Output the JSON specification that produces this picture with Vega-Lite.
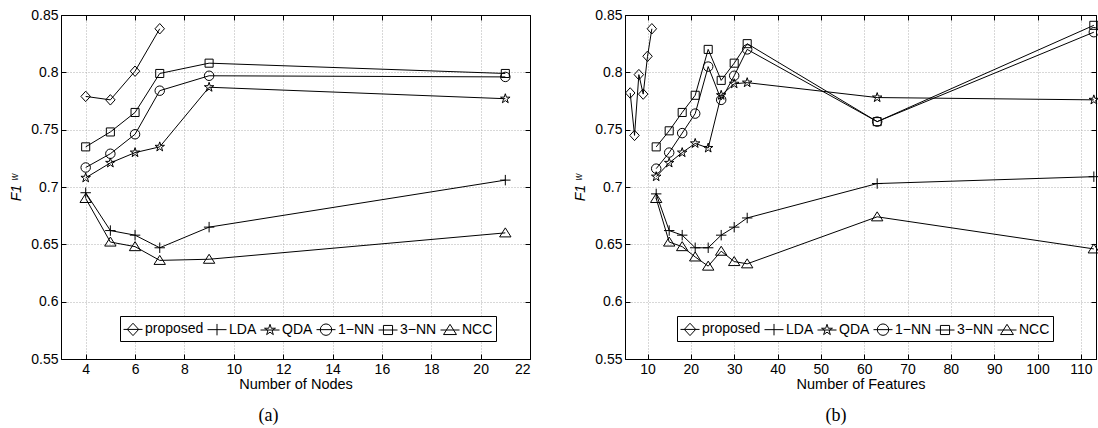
{
  "$schema": "https://vega.github.io/schema/vega-lite/v6.json",
  "padding": {"left": 9, "top": 7, "right": 0, "bottom": 0},
  "datasets": {
    "a": [
      {"m": "proposed", "x": 4, "y": 0.779}, {"m": "proposed", "x": 5, "y": 0.776}, {"m": "proposed", "x": 6, "y": 0.801}, {"m": "proposed", "x": 7, "y": 0.838},
      {"m": "LDA", "x": 4, "y": 0.695}, {"m": "LDA", "x": 5, "y": 0.662}, {"m": "LDA", "x": 6, "y": 0.658}, {"m": "LDA", "x": 7, "y": 0.647}, {"m": "LDA", "x": 9, "y": 0.665}, {"m": "LDA", "x": 21, "y": 0.706},
      {"m": "QDA", "x": 4, "y": 0.708}, {"m": "QDA", "x": 5, "y": 0.721}, {"m": "QDA", "x": 6, "y": 0.730}, {"m": "QDA", "x": 7, "y": 0.735}, {"m": "QDA", "x": 9, "y": 0.787}, {"m": "QDA", "x": 21, "y": 0.777},
      {"m": "1−NN", "x": 4, "y": 0.717}, {"m": "1−NN", "x": 5, "y": 0.729}, {"m": "1−NN", "x": 6, "y": 0.746}, {"m": "1−NN", "x": 7, "y": 0.784}, {"m": "1−NN", "x": 9, "y": 0.797}, {"m": "1−NN", "x": 21, "y": 0.796},
      {"m": "3−NN", "x": 4, "y": 0.735}, {"m": "3−NN", "x": 5, "y": 0.748}, {"m": "3−NN", "x": 6, "y": 0.765}, {"m": "3−NN", "x": 7, "y": 0.799}, {"m": "3−NN", "x": 9, "y": 0.808}, {"m": "3−NN", "x": 21, "y": 0.799},
      {"m": "NCC", "x": 4, "y": 0.690}, {"m": "NCC", "x": 5, "y": 0.652}, {"m": "NCC", "x": 6, "y": 0.648}, {"m": "NCC", "x": 7, "y": 0.636}, {"m": "NCC", "x": 9, "y": 0.637}, {"m": "NCC", "x": 21, "y": 0.660}
    ],
    "b": [
      {"m": "proposed", "x": 6, "y": 0.782}, {"m": "proposed", "x": 7, "y": 0.745}, {"m": "proposed", "x": 8, "y": 0.798}, {"m": "proposed", "x": 9, "y": 0.781}, {"m": "proposed", "x": 10, "y": 0.814}, {"m": "proposed", "x": 11, "y": 0.838},
      {"m": "LDA", "x": 12, "y": 0.694}, {"m": "LDA", "x": 15, "y": 0.662}, {"m": "LDA", "x": 18, "y": 0.658}, {"m": "LDA", "x": 21, "y": 0.647}, {"m": "LDA", "x": 24, "y": 0.647}, {"m": "LDA", "x": 27, "y": 0.658}, {"m": "LDA", "x": 30, "y": 0.665}, {"m": "LDA", "x": 33, "y": 0.673}, {"m": "LDA", "x": 63, "y": 0.703}, {"m": "LDA", "x": 113, "y": 0.709},
      {"m": "QDA", "x": 12, "y": 0.709}, {"m": "QDA", "x": 15, "y": 0.721}, {"m": "QDA", "x": 18, "y": 0.730}, {"m": "QDA", "x": 21, "y": 0.738}, {"m": "QDA", "x": 24, "y": 0.734}, {"m": "QDA", "x": 27, "y": 0.780}, {"m": "QDA", "x": 30, "y": 0.790}, {"m": "QDA", "x": 33, "y": 0.791}, {"m": "QDA", "x": 63, "y": 0.778}, {"m": "QDA", "x": 113, "y": 0.776},
      {"m": "1−NN", "x": 12, "y": 0.716}, {"m": "1−NN", "x": 15, "y": 0.730}, {"m": "1−NN", "x": 18, "y": 0.747}, {"m": "1−NN", "x": 21, "y": 0.764}, {"m": "1−NN", "x": 24, "y": 0.805}, {"m": "1−NN", "x": 27, "y": 0.776}, {"m": "1−NN", "x": 30, "y": 0.797}, {"m": "1−NN", "x": 33, "y": 0.820}, {"m": "1−NN", "x": 63, "y": 0.757}, {"m": "1−NN", "x": 113, "y": 0.835},
      {"m": "3−NN", "x": 12, "y": 0.735}, {"m": "3−NN", "x": 15, "y": 0.749}, {"m": "3−NN", "x": 18, "y": 0.765}, {"m": "3−NN", "x": 21, "y": 0.780}, {"m": "3−NN", "x": 24, "y": 0.820}, {"m": "3−NN", "x": 27, "y": 0.793}, {"m": "3−NN", "x": 30, "y": 0.808}, {"m": "3−NN", "x": 33, "y": 0.825}, {"m": "3−NN", "x": 63, "y": 0.757}, {"m": "3−NN", "x": 113, "y": 0.841},
      {"m": "NCC", "x": 12, "y": 0.690}, {"m": "NCC", "x": 15, "y": 0.652}, {"m": "NCC", "x": 18, "y": 0.648}, {"m": "NCC", "x": 21, "y": 0.639}, {"m": "NCC", "x": 24, "y": 0.631}, {"m": "NCC", "x": 27, "y": 0.644}, {"m": "NCC", "x": 30, "y": 0.635}, {"m": "NCC", "x": 33, "y": 0.633}, {"m": "NCC", "x": 63, "y": 0.674}, {"m": "NCC", "x": 113, "y": 0.646}
    ]
  },
  "spacing": 42,
  "resolve": {"scale": {"shape": "independent"}, "legend": {"shape": "independent"}},
  "hconcat": [
    {
      "width": 469,
      "height": 344,
      "data": {"name": "a"},
      "title": {"text": "(a)", "orient": "bottom", "font": "Liberation Serif", "fontSize": 18, "fontWeight": "normal", "color": "black", "dx": -27, "offset": 16.5},
      "resolve": {"axis": {"x": "independent", "y": "independent"}, "scale": {"shape": "independent"}, "legend": {"shape": "independent"}},
      "layer": [
        {
          "mark": {"type": "line", "color": "black", "strokeWidth": 1},
          "encoding": {
            "x": {"field": "x", "type": "quantitative", "scale": {"domain": [3, 22], "nice": false, "zero": false},
                  "axis": {"orient": "bottom", "values": [4, 6, 8, 10, 12, 14, 16, 18, 20, 22], "title": "Number of Nodes", "grid": true}},
            "y": {"field": "y", "type": "quantitative", "scale": {"domain": [0.55, 0.85], "nice": false, "zero": false},
                  "axis": {"orient": "left", "values": [0.55, 0.6, 0.65, 0.7, 0.75, 0.8, 0.85], "format": ".2~f", "title": "F1 ʷ", "grid": true}},
            "detail": {"field": "m"}
          }
        },
        {
          "mark": {"type": "point", "filled": false, "stroke": "black", "strokeWidth": 1, "size": 90, "opacity": 1},
          "encoding": {
            "x": {"field": "x", "type": "quantitative", "axis": {"orient": "top", "values": [4, 6, 8, 10, 12, 14, 16, 18, 20, 22], "labels": false, "title": null, "grid": false}},
            "y": {"field": "y", "type": "quantitative", "axis": {"orient": "right", "values": [0.55, 0.6, 0.65, 0.7, 0.75, 0.8, 0.85], "labels": false, "title": null, "grid": false}},
            "shape": {"field": "m", "type": "nominal", "legend": null,
              "scale": {"domain": ["proposed", "LDA", "QDA", "1−NN", "3−NN", "NCC"],
                        "range": ["M0,-1.1L1,0L0,1.1L-1,0Z", "M-1.1,0H1.1M0,-1.1V1.1", "M0,-1.05L0.236,-0.324L0.999,-0.324L0.381,0.124L0.617,0.849L0,0.401L-0.617,0.849L-0.381,0.124L-0.999,-0.324L-0.236,-0.324Z", "M1,0A1,1,0,1,1,-1,0A1,1,0,1,1,1,0Z", "M-0.85,-0.85H0.85V0.85H-0.85Z", "M0,-1.05L1.2,0.85H-1.2Z"]}}
          }
        },
        {
          "transform": [{"filter": "false"}],
          "mark": {"type": "point", "filled": false, "stroke": "black", "strokeWidth": 1, "size": 361, "opacity": 1},
          "encoding": {
            "x": {"field": "x", "type": "quantitative", "axis": null},
            "y": {"field": "y", "type": "quantitative", "axis": null},
            "shape": {"field": "m", "type": "nominal",
              "scale": {"domain": ["proposed", "LDA", "QDA", "1−NN", "3−NN", "NCC"],
                        "range": ["M-1,0H1M0,-0.65L0.6,0L0,0.65L-0.6,0Z", "M-1,0H1M0,-0.6V0.6", "M-1,0H1M0,-0.6L0.135,-0.185L0.571,-0.185L0.218,0.071L0.353,0.485L0,0.229L-0.353,0.485L-0.218,0.071L-0.571,-0.185L-0.135,-0.185Z", "M-1,0H1M0.6,0A0.6,0.6,0,1,1,-0.6,0A0.6,0.6,0,1,1,0.6,0Z", "M-1,0H1M-0.48,-0.48H0.48V0.48H-0.48Z", "M-1,0H1M0,-0.6L0.68,0.48H-0.68Z"]},
              "legend": {"orient": "none", "legendX": 59, "legendY": 301, "direction": "horizontal", "title": null, "symbolSize": 361}}
          }
        }
      ]
    },
    {
      "width": 471,
      "height": 344,
      "data": {"name": "b"},
      "title": {"text": "(b)", "orient": "bottom", "font": "Liberation Serif", "fontSize": 18, "fontWeight": "normal", "color": "black", "dx": -24.5, "offset": 16.5},
      "resolve": {"axis": {"x": "independent", "y": "independent"}, "scale": {"shape": "independent"}, "legend": {"shape": "independent"}},
      "layer": [
        {
          "mark": {"type": "line", "color": "black", "strokeWidth": 1},
          "encoding": {
            "x": {"field": "x", "type": "quantitative", "scale": {"domain": [4.8, 113.5], "nice": false, "zero": false},
                  "axis": {"orient": "bottom", "values": [10, 20, 30, 40, 50, 60, 70, 80, 90, 100, 110], "title": "Number of Features", "grid": true}},
            "y": {"field": "y", "type": "quantitative", "scale": {"domain": [0.55, 0.85], "nice": false, "zero": false},
                  "axis": {"orient": "left", "values": [0.55, 0.6, 0.65, 0.7, 0.75, 0.8, 0.85], "format": ".2~f", "title": "F1 ʷ", "grid": true}},
            "detail": {"field": "m"}
          }
        },
        {
          "mark": {"type": "point", "filled": false, "stroke": "black", "strokeWidth": 1, "size": 90, "opacity": 1},
          "encoding": {
            "x": {"field": "x", "type": "quantitative", "axis": {"orient": "top", "values": [10, 20, 30, 40, 50, 60, 70, 80, 90, 100, 110], "labels": false, "title": null, "grid": false}},
            "y": {"field": "y", "type": "quantitative", "axis": {"orient": "right", "values": [0.55, 0.6, 0.65, 0.7, 0.75, 0.8, 0.85], "labels": false, "title": null, "grid": false}},
            "shape": {"field": "m", "type": "nominal", "legend": null,
              "scale": {"domain": ["proposed", "LDA", "QDA", "1−NN", "3−NN", "NCC"],
                        "range": ["M0,-1.1L1,0L0,1.1L-1,0Z", "M-1.1,0H1.1M0,-1.1V1.1", "M0,-1.05L0.236,-0.324L0.999,-0.324L0.381,0.124L0.617,0.849L0,0.401L-0.617,0.849L-0.381,0.124L-0.999,-0.324L-0.236,-0.324Z", "M1,0A1,1,0,1,1,-1,0A1,1,0,1,1,1,0Z", "M-0.85,-0.85H0.85V0.85H-0.85Z", "M0,-1.05L1.2,0.85H-1.2Z"]}}
          }
        },
        {
          "transform": [{"filter": "false"}],
          "mark": {"type": "point", "filled": false, "stroke": "black", "strokeWidth": 1, "size": 361, "opacity": 1},
          "encoding": {
            "x": {"field": "x", "type": "quantitative", "axis": null},
            "y": {"field": "y", "type": "quantitative", "axis": null},
            "shape": {"field": "m", "type": "nominal",
              "scale": {"domain": ["proposed", "LDA", "QDA", "1−NN", "3−NN", "NCC"],
                        "range": ["M-1,0H1M0,-0.65L0.6,0L0,0.65L-0.6,0Z", "M-1,0H1M0,-0.6V0.6", "M-1,0H1M0,-0.6L0.135,-0.185L0.571,-0.185L0.218,0.071L0.353,0.485L0,0.229L-0.353,0.485L-0.218,0.071L-0.571,-0.185L-0.135,-0.185Z", "M-1,0H1M0.6,0A0.6,0.6,0,1,1,-0.6,0A0.6,0.6,0,1,1,0.6,0Z", "M-1,0H1M-0.48,-0.48H0.48V0.48H-0.48Z", "M-1,0H1M0,-0.6L0.68,0.48H-0.68Z"]},
              "legend": {"orient": "none", "legendX": 52, "legendY": 301, "direction": "horizontal", "title": null, "symbolSize": 361}}
          }
        }
      ]
    }
  ],
  "config": {
    "font": "Liberation Sans",
    "background": "white",
    "view": {"stroke": "black", "strokeWidth": 1},
    "axis": {
      "labelFont": "Liberation Sans", "labelFontSize": 14, "labelColor": "black",
      "titleFont": "Liberation Sans", "titleFontSize": 14.5, "titleFontWeight": "normal", "titleColor": "black",
      "domainColor": "black", "tickColor": "black", "tickSize": -5, "labelPadding": 8,
      "gridColor": "#b0b0b0", "gridDash": [1, 2], "gridWidth": 1
    },
    "axisX": {"titlePadding": 1},
    "axisY": {"titlePadding": 7, "titleFontStyle": "italic", "titleFontSize": 14},
    "legend": {
      "labelFont": "Liberation Sans", "labelFontSize": 14, "labelColor": "black", "labelOffset": 2,
      "strokeColor": "black", "fillColor": "white", "padding": 3, "columnPadding": 1,
      "symbolStrokeColor": "black", "symbolFillColor": "transparent", "symbolStrokeWidth": 1, "symbolOpacity": 1
    }
  }
}
